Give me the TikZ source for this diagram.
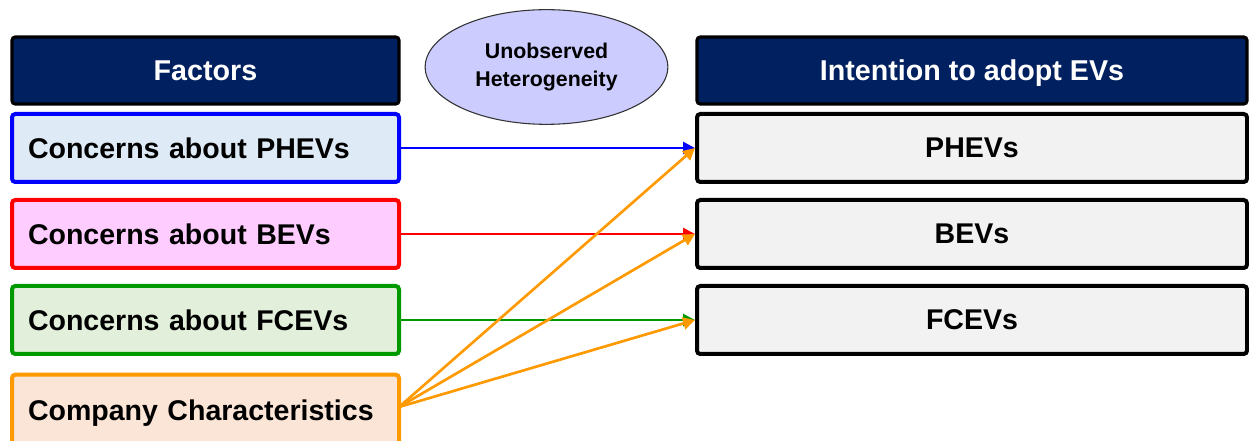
\documentclass[tikz,border=0pt]{standalone}
\usepackage{fontspec}
\setmainfont{Liberation Sans}
\usetikzlibrary{arrows.meta,shapes.geometric}
\definecolor{navy}{HTML}{002060}
\definecolor{phevfill}{HTML}{DEEAF6}
\definecolor{bevfill}{HTML}{FFCCFF}
\definecolor{fcevfill}{HTML}{E2EFDA}
\definecolor{compfill}{HTML}{FBE5D6}
\definecolor{outfill}{HTML}{F2F2F2}
\definecolor{ufill}{HTML}{CCCCFF}
\definecolor{cgreen}{HTML}{009900}
\definecolor{corange}{HTML}{FF9900}
\begin{document}
\begin{tikzpicture}[x=0.75pt,y=-0.75pt,
  header/.style={draw=black, line width=2.4pt, fill=navy, rounded corners=2.5pt,
    text=white, font=\fontsize{21.5}{24}\selectfont\bfseries, inner sep=0pt,
    text height=15.5pt, text depth=0pt},
  factor/.style={line width=3pt, rounded corners=2.5pt,
    font=\fontsize{21.4}{24}\selectfont\bfseries, inner ysep=0pt, inner xsep=12pt,
    text width=266.25pt, align=left, minimum height=51pt},
  outcome/.style={draw=black, line width=3pt, fill=outfill, rounded corners=2.5pt,
    font=\fontsize{21.4}{24}\selectfont\bfseries, inner sep=0pt,
    minimum width=412.5pt, minimum height=51pt},
  link/.style={line width=2pt, -{Triangle[length=9pt,width=9pt]}}]
\useasboundingbox (0,0) rectangle (1249,441);

% column headers
\node[header, minimum width=290.25pt, minimum height=50.25pt] (hf) at (205.5,70.5) {Factors};
\node[header, minimum width=412.5pt, minimum height=50.25pt] (ho) at (972,70.5) {Intention to adopt EVs};

% latent class ellipse
\node[ellipse, draw=black!80, line width=0.8pt, fill=ufill, minimum width=182pt, minimum height=86pt,
  inner sep=0pt, align=center, font=\fontsize{16}{21}\selectfont\bfseries] (uh) at (546.5,67)
  {\raisebox{-2pt}{Unobserved}\\\raisebox{-2pt}{Heterogeneity}};

% explanatory factors
\node[factor, draw=blue, fill=phevfill] (fp) at (205.5,148) {Concerns about PHEVs};
\node[factor, draw=red, fill=bevfill] (fb) at (205.5,234) {Concerns about BEVs};
\node[factor, draw=cgreen, fill=fcevfill] (ff) at (205.5,320) {Concerns about FCEVs};
\node[factor, draw=corange, fill=compfill, minimum height=56pt, text depth=0pt] (fc) at (205.5,412)
  {\raisebox{3pt}{Company Characteristics}};

% adoption intentions
\node[outcome] (op) at (972,148) {PHEVs};
\node[outcome] (ob) at (972,234) {BEVs};
\node[outcome] (of) at (972,320) {FCEVs};

% effects
\coordinate (cs) at (399,407);
\draw[link, blue] (fp.east) -- (op.west);
\draw[link, red] (fb.east) -- (ob.west);
\draw[link, cgreen] (ff.east) -- (of.west);
\draw[link, corange] (cs) -- (op.west);
\draw[link, corange] (cs) -- (ob.west);
\draw[link, corange] (cs) -- (of.west);
\end{tikzpicture}
\end{document}
